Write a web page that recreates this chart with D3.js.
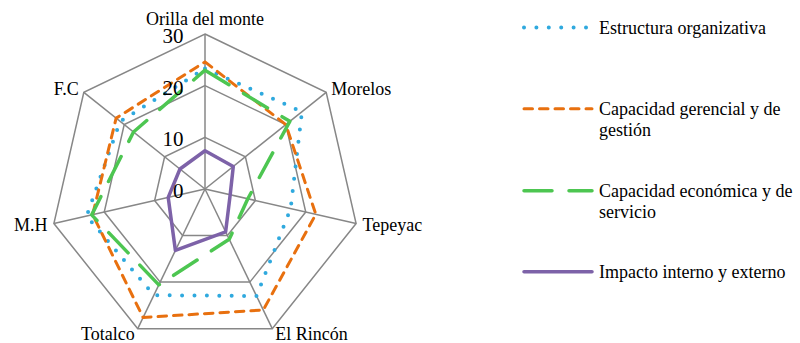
<!DOCTYPE html>
<html>
<head>
<meta charset="utf-8">
<script src="https://cdn.jsdelivr.net/npm/d3@7"></script>
<style>
  body { margin: 0; background: #fff; }
  text { font-family: "Liberation Serif", "Times New Roman", serif; fill: #000; }
</style>
</head>
<body>
<div id="radar"></div>
<script>
// chart data
const categories = ["Orilla del monte", "Morelos", "Tepeyac", "El Rincón", "Totalco", "M.H", "F.C"];
const seriesNames = [
  "Estructura organizativa",
  "Capacidad gerencial y de gestión",
  "Capacidad económica y de servicio",
  "Impacto interno y externo"
];
const estructura = [23.3, 24, 17, 23, 22.8, 23.5, 21];
const gerencial = [24.6, 20, 22, 26, 27.6, 22.3, 22];
const economica = [23, 21, 8.5, 10.8, 20.6, 22.5, 17.7];
const impacto = [7.4, 7, 5, 9.2, 13.2, 7.3, 6.2];
const ticks = [0, 10, 20, 30];

const seriesValues = [estructura, gerencial, economica, impacto];

// styles for each series
const colors = ["#2fa9de", "#e8700f", "#4dc651", "#7d62a8"];
const widths = [4, 3, 3.5, 3.5];
const dashes = ["0,12.4", "8.5,7", "28,17", null];

const width = 800;
const height = 343;
const cx = 205, cy = 189;

const svg = d3.select("#radar")
  .append("svg")
  .attr("width", width)
  .attr("height", height);

// radius scale and angle scale
const r = d3.scaleLinear().domain([0, 30]).range([0, 155]);
const angle = d3.scaleLinear().domain([0, categories.length]).range([0, 2 * Math.PI]);

const g = svg.append("g").attr("transform", `translate(${cx},${cy})`);

const px = (a, v) => r(v) * Math.sin(a);
const py = (a, v) => -r(v) * Math.cos(a);

// grid rings
const ring = d3.lineRadial()
  .angle((d, i) => angle(i))
  .radius(d => r(d))
  .curve(d3.curveLinearClosed);

ticks.filter(t => t > 0).forEach(t => {
  g.append("path")
    .attr("d", ring(categories.map(() => t)))
    .attr("fill", "none")
    .attr("stroke", "#878787")
    .attr("stroke-width", 1.5);
});

// spokes
g.selectAll(".spoke")
  .data(categories)
  .enter()
  .append("line")
    .attr("class", "spoke")
    .attr("x1", 0).attr("y1", 0)
    .attr("x2", (d, i) => px(angle(i), 30))
    .attr("y2", (d, i) => py(angle(i), 30))
    .attr("stroke", "#878787")
    .attr("stroke-width", 1.5);

// series lines
const line = d3.lineRadial()
  .angle((d, i) => angle(i))
  .radius(d => r(d))
  .curve(d3.curveLinearClosed);

seriesValues.forEach((vals, k) => {
  g.append("path")
    .attr("d", line(vals))
    .attr("fill", "none")
    .attr("stroke", colors[k])
    .attr("stroke-width", widths[k])
    .attr("stroke-linecap", "round")
    .attr("stroke-linejoin", "round")
    .attr("stroke-dasharray", dashes[k]);
});

// tick labels on the top axis
g.selectAll(".tick")
  .data(ticks)
  .enter()
  .append("text")
    .attr("class", "tick")
    .attr("x", -21.5)
    .attr("y", d => -r(d) + 9)
    .attr("text-anchor", "end")
    .attr("font-size", "21px")
    .text(d => d);

// category labels
g.selectAll(".cat")
  .data(categories)
  .enter()
  .append("text")
    .attr("class", "cat")
    .attr("font-size", "18px")
    .attr("x", (d, i) => {
      const a = angle(i);
      const s = Math.sin(a);
      const off = Math.abs(s) > 0.9 ? 6.5 : Math.abs(s) > 0.6 ? 5 : 3;
      return px(a, 30) + (Math.abs(s) < 0.01 ? 0 : Math.sign(s) * off);
    })
    .attr("y", (d, i) => {
      const a = angle(i);
      const c = Math.cos(a);
      if (c > 0.99) return py(a, 30) - 9;
      if (c > 0.5) return py(a, 30) + 2.6;
      if (c > -0.5) return py(a, 30) + 8;
      return py(a, 30) + 11;
    })
    .attr("text-anchor", (d, i) => {
      const s = Math.sin(angle(i));
      if (Math.abs(s) < 0.01) return "middle";
      return s > 0 ? "start" : "end";
    })
    .text(d => d);

// legend
const legendTop = [27.5, 108.7, 190.7, 271.7];
const legend = svg.append("g");

seriesNames.forEach((name, k) => {
  const y = legendTop[k];
  legend.append("line")
    .attr("x1", 524).attr("x2", 592)
    .attr("y1", y).attr("y2", y)
    .attr("stroke", colors[k])
    .attr("stroke-width", widths[k])
    .attr("stroke-linecap", "round")
    .attr("stroke-dasharray", dashes[k]);

  const t = legend.append("text")
    .attr("x", 599)
    .attr("y", y + 6)
    .attr("font-size", "18px");

  // simple word wrap
  const words = name.split(" ");
  let lineWords = [];
  let tspan = t.append("tspan").attr("x", 599).attr("dy", 0);
  words.forEach(w => {
    lineWords.push(w);
    tspan.text(lineWords.join(" "));
    if (tspan.node().getComputedTextLength() > 201 && lineWords.length > 1) {
      lineWords.pop();
      tspan.text(lineWords.join(" "));
      lineWords = [w];
      tspan = t.append("tspan").attr("x", 599).attr("dy", 21).text(w);
    }
  });
});
</script>
</body>
</html>
